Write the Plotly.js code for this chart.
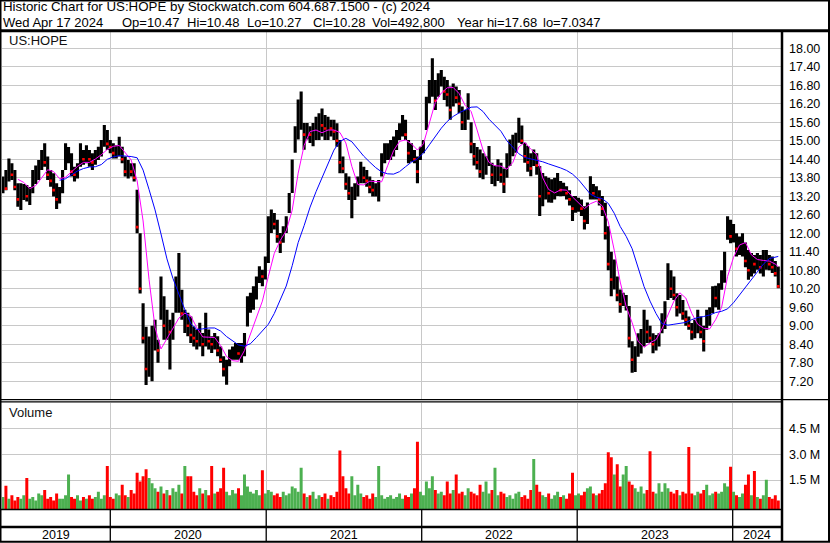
<!DOCTYPE html>
<html><head><meta charset="utf-8">
<script src="https://cdn.plot.ly/plotly-3.0.1.min.js"></script>
<style>html,body{margin:0;padding:0;background:#fff}#chart{width:830px;height:543px}</style>
</head><body><div id="chart"></div>
<script>
// ---- quote header ----
const symbol = 'US:HOPE';
const quoteDate = 'Wed Apr 17 2024';
const quoteOpen = '10.47', quoteHigh = '10.48', quoteLow = '10.27', quoteClose = '10.28';
const quoteVolume = '492,800';
const yearHigh = '17.68', yearLow = '7.0347';

// ---- weekly price data (week dates start at firstWeekDate, step 7 days) ----
const firstWeekDate = '2019-04-24';
const weekHigh = [
13.84,14.05,14.43,14.27,14.05,13.62,13.62,13.6,13.57,13.5,
14.05,14.2,14.38,14.7,14.92,14.49,14.05,13.95,13.62,13.5,
14.05,14.92,14.8,14.6,14.16,14.27,14.92,14.7,14.86,14.7,
14.6,14.7,14.81,15.03,15.51,15.35,15.03,14.92,14.86,15.13,
14.81,14.49,14.38,14.27,14.27,13.41,12.0,9.73,8.97,8.65,
9.0,9.2,8.55,10.6,9.96,9.52,9.2,9.42,10.6,11.36,
10.17,9.52,9.42,9.3,8.98,8.88,9.1,8.77,9.42,8.88,
8.66,8.77,8.66,8.33,8.01,7.9,8.23,8.33,8.44,8.44,
8.44,8.77,9.96,10.07,10.28,10.6,10.93,10.82,11.25,12.55,
12.77,12.66,12.44,12.01,12.23,12.55,13.31,14.39,15.47,16.34,
16.6,15.58,15.58,15.47,15.58,15.78,15.89,16.05,15.84,15.78,
15.68,15.68,15.57,15.03,14.49,13.95,13.84,13.51,13.62,13.84,
14.32,14.16,14.05,13.84,13.73,13.62,13.73,14.6,14.92,14.92,
15.03,15.14,15.35,15.57,15.84,15.68,15.03,14.92,14.7,14.49,
14.81,15.03,16.43,16.97,17.68,16.97,17.19,17.3,17.08,16.97,
16.76,16.86,16.76,16.65,16.11,16.0,16.54,
15.6,14.93,14.8,14.72,14.6,14.5,14.83,14.29,14.2,14.4,
14.29,14.1,14.6,15.04,15.2,15.26,15.75,15.5,14.94,14.83,
14.6,14.72,14.6,14.18,13.96,13.85,13.8,13.75,13.8,13.96,
13.7,13.64,13.53,13.4,13.21,13.21,13.15,13.1,12.88,13.0,
13.85,13.6,13.53,13.4,13.21,12.99,12.23,11.4,11.15,10.6,
10.18,10.07,10.0,9.64,8.5,8.34,8.76,8.9,9.52,9.2,
9.0,8.76,8.7,8.76,9.41,9.8,11.03,10.8,10.6,10.06,
10.0,9.84,9.5,9.3,9.09,9.2,9.52,9.3,9.0,9.52,
9.6,10.28,10.3,10.38,10.8,11.4,12.55,12.44,12.3,12.0,
11.9,12.0,11.7,11.46,11.36,11.3,11.36,11.3,11.46,11.46,
11.3,11.25,11.1,10.92];
const weekLow = [
13.30,13.40,13.68,13.73,13.40,12.86,12.76,13.08,13.03,12.92,
13.3,13.6,13.73,14.05,14.16,13.73,13.51,13.19,12.79,12.97,
13.3,14.05,14.27,13.84,13.68,13.78,14.16,14.22,14.27,14.16,
14.05,14.22,14.38,14.49,14.81,14.7,14.6,14.43,14.43,14.49,
14.27,13.84,13.78,13.84,13.68,12.0,10.05,8.43,7.08,7.35,
7.2,8.2,7.8,9.2,8.55,8.55,7.58,8.55,9.42,9.42,
9.2,8.77,8.66,8.44,8.33,8.23,8.33,8.01,8.33,8.23,
8.12,8.23,8.01,7.8,7.36,7.09,7.69,7.9,7.9,7.9,
7.8,8.01,8.98,9.42,9.52,9.85,10.39,10.28,10.5,11.04,
12.01,12.12,11.69,11.36,11.69,12.01,12.66,13.31,14.61,15.04,
15.36,14.71,15.04,14.93,14.82,15.03,15.03,15.14,15.03,15.03,
15.14,15.03,14.81,13.95,13.95,13.41,13.08,12.49,13.08,13.19,
13.62,13.62,13.51,13.3,13.19,13.19,13.03,13.84,14.27,14.38,
14.38,14.49,14.7,15.03,15.14,15.03,14.27,14.32,14.27,13.62,
14.38,14.6,15.35,16.22,16.43,16.0,16.43,16.76,16.32,16.11,
15.68,16.11,16.22,15.89,15.35,15.35,15.68,
14.6,14.2,14.07,13.8,13.75,13.9,14.18,13.6,13.53,13.7,
13.64,13.31,13.8,14.18,14.5,14.61,14.94,14.9,14.29,14.0,
13.85,14.18,13.9,12.56,12.88,13.1,13.0,12.99,13.1,13.21,
13.2,13.21,13.1,12.9,12.4,12.67,12.7,12.56,12.12,12.3,
13.1,13.1,13.1,12.9,12.56,11.8,10.8,9.96,10.18,9.8,
9.42,9.64,9.5,8.3,7.48,7.5,8.0,8.1,8.33,8.44,
8.44,8.11,8.2,8.33,8.76,8.9,9.84,9.9,9.84,9.3,
9.4,9.2,9.0,8.87,8.55,8.6,8.76,8.6,8.17,8.87,
9.0,9.41,9.6,9.52,10.17,10.4,11.79,11.68,11.7,11.25,
11.3,11.25,10.9,10.49,10.6,10.7,10.82,10.7,10.6,10.82,
10.8,10.71,10.6,10.22];
const weekClose = [
13.5,13.45,14.0,13.9,13.5,13.1,13.3,13.3,13.2,13.4,
13.9,14.1,14.3,14.6,14.3,13.9,13.7,13.4,13.1,13.3,
13.9,14.3,14.6,14.0,13.9,14.2,14.6,14.4,14.6,14.4,
14.3,14.5,14.7,14.9,15.2,14.9,14.8,14.6,14.7,14.7,
14.4,14.0,14.1,14.0,13.8,12.2,10.2,8.6,7.6,8.2,
8.4,8.6,8.2,9.8,9.0,9.0,8.8,9.2,10.0,10.0,
9.4,9.45,9.0,8.7,8.6,8.5,8.7,8.4,8.7,8.5,
8.4,8.5,8.2,7.9,7.6,7.7,8.0,8.1,8.2,8.1,
8.1,8.6,9.7,9.8,10.1,10.4,10.7,10.6,11.1,12.2,
12.4,12.3,11.9,11.7,12.1,12.4,13.1,14.2,15.2,15.5,
16.0,15.2,15.3,15.2,15.4,15.4,15.6,15.5,15.4,15.5,
15.4,15.3,15.0,14.3,14.1,13.6,13.3,13.4,13.5,13.6,
14.0,13.8,13.7,13.5,13.4,13.4,13.5,14.4,14.6,14.7,
14.8,14.9,15.2,15.4,15.5,15.2,14.6,14.6,14.4,14.0,
14.6,14.9,16.2,16.7,16.9,16.3,16.9,17.0,16.6,16.5,
16.0,16.5,16.4,16.2,15.6,15.7,16.2,
14.9,14.5,14.3,14.0,14.2,14.3,14.4,13.9,14.0,14.1,
13.9,13.6,14.4,14.8,14.9,15.1,15.4,15.0,14.5,14.3,
14.1,14.4,14.2,13.2,13.4,13.5,13.3,13.4,13.6,13.6,
13.4,13.4,13.3,13.1,12.8,12.9,12.9,12.8,12.4,12.8,
13.6,13.3,13.3,13.1,12.8,12.0,11.0,10.5,10.6,10.0,
9.7,9.9,10.0,8.6,7.9,8.2,8.5,8.6,9.1,8.8,
8.6,8.4,8.5,8.6,9.2,9.7,10.6,10.2,10.0,9.6,
9.7,9.4,9.2,9.0,8.8,8.9,9.2,8.8,8.5,9.3,
9.4,10.0,9.9,10.2,10.6,11.2,12.3,11.9,12.0,11.5,
11.6,11.7,11.1,10.8,11.1,11.0,11.2,10.9,11.2,11.3,
11.0,10.9,10.7,10.28];
// representative daily volume for each week, millions of shares
const weekVolumeM = [
0.7,1.35,0.6,0.8,0.5,0.7,0.6,0.8,1.8,0.6,
0.7,0.5,0.9,0.8,1.1,0.6,0.7,0.5,0.9,0.6,
0.6,0.8,2.0,0.7,0.6,0.8,0.5,0.7,0.6,0.8,
0.6,0.7,1.0,0.6,0.8,2.5,0.7,0.6,0.9,0.8,
1.4,0.8,0.7,1.1,0.9,2.1,1.6,1.9,2.3,1.8,
1.5,1.2,1.0,1.3,0.9,1.1,0.8,1.2,1.0,1.4,
0.9,2.5,1.9,1.9,1.0,0.8,1.2,0.9,1.1,0.8,
2.5,0.9,1.0,1.2,2.4,1.0,0.8,1.1,0.9,1.2,
0.8,2.0,1.3,1.0,0.9,1.1,0.8,2.25,0.9,1.1,
1.0,0.8,0.9,0.7,1.0,0.8,0.9,1.3,1.2,1.0,
2.4,0.9,0.7,0.8,1.0,0.6,0.8,0.7,0.9,0.6,
0.8,0.7,1.0,3.4,1.9,1.2,0.9,1.9,0.8,1.4,
0.9,0.7,0.8,0.6,0.9,0.7,2.5,0.8,0.6,0.7,
0.8,0.6,0.7,0.9,0.6,0.8,0.7,0.9,1.2,3.9,
1.0,0.8,1.6,1.2,1.9,1.1,0.9,1.0,0.8,1.6,
0.9,1.1,2.0,0.9,1.0,0.8,1.2,1.0,0.9,0.8,
1.4,1.0,1.6,0.9,1.1,2.4,0.8,1.0,0.9,0.7,
0.8,0.6,0.9,1.0,0.7,0.8,0.6,1.1,2.9,1.4,
1.0,0.8,0.7,0.9,0.6,0.8,1.0,0.7,0.8,0.6,
0.9,2.1,0.8,0.9,0.8,1.0,1.2,1.3,0.9,0.8,
0.9,1.1,1.5,3.3,3.0,2.0,2.6,1.3,2.0,2.5,
1.6,1.4,1.2,1.0,1.3,0.9,1.1,3.35,1.0,0.9,
1.5,1.0,1.5,1.2,1.0,0.9,1.1,0.8,1.0,0.9,
3.6,0.9,0.8,1.0,0.9,1.1,1.4,0.8,0.9,1.0,
0.9,1.0,1.5,1.3,2.45,1.0,0.8,0.7,0.9,1.4,
2.0,0.8,2.2,0.7,0.6,0.8,1.7,0.7,0.6,0.8,
0.49];

// ---- moving averages, every second week ----
const maShortStartWeek = 5;   // magenta
const maShort = [
13.75,13.65,13.45,13.55,13.8,14.06,14.0,13.77,13.82,14.0,
14.17,14.3,14.3,14.41,14.55,14.72,14.82,14.85,14.63,14.38,
13.7,12.4,10.5,8.95,8.25,8.58,8.88,9.25,9.41,9.32,
8.94,8.64,8.63,8.62,8.36,8.0,7.87,7.85,8.2,8.72,
9.23,9.8,10.6,11.35,11.77,12.08,12.75,13.95,14.85,15.3,
15.35,15.26,15.35,15.35,15.27,14.93,14.17,13.58,13.57,13.69,
13.68,13.67,14.19,14.68,14.98,15.03,14.9,14.7,14.9,15.57,
16.25,16.55,16.72,16.73,16.53,16.15,15.95,15.35,14.7,14.3,
14.19,14.18,14.08,14.3,14.8,14.95,14.73,14.55,13.8,13.42,
13.31,13.41,13.4,13.18,12.99,12.8,12.96,13.04,12.89,12.37,
11.45,10.42,9.62,9.1,8.5,8.3,8.45,8.55,8.9,9.38,
9.8,10.07,9.9,9.4,9.05,8.92,8.9,9.2,9.6,10.6,
11.22,11.62,11.7,11.3,11.15,11.12,11.1,11.0,10.92];
const maLongStartWeek = 19;   // blue
const maLong = [
13.72,13.77,13.9,14.02,14.1,14.15,14.16,14.23,14.4,14.48,
14.52,14.51,14.49,14.45,14.05,13.42,12.76,11.98,11.17,10.54,
10.0,9.52,9.07,8.88,8.9,8.93,8.93,8.83,8.65,8.51,
8.38,8.34,8.42,8.62,8.82,9.05,9.4,9.83,10.29,10.95,
11.7,12.25,12.85,13.35,13.8,14.27,14.7,14.98,15.08,14.97,
14.73,14.5,14.31,14.13,13.99,13.93,13.92,14.0,14.16,14.31,
14.42,14.6,14.87,15.14,15.41,15.63,15.79,15.91,16.01,16.09,
16.1,15.95,15.7,15.5,15.31,15.0,14.78,14.58,14.46,14.42,
14.38,14.32,14.25,14.19,14.12,14.04,13.92,13.74,13.5,13.27,
13.17,13.12,12.97,12.65,12.22,11.9,11.5,10.92,10.27,9.8,
9.4,9.07,9.02,9.05,9.08,9.11,9.2,9.27,9.3,9.35,
9.43,9.47,9.55,9.75,10.0,10.25,10.5,10.75,11.0,11.18,
11.24,11.25];

// ---- axes ----
const yearStarts = ['2020-01-01','2021-01-01','2022-01-01','2023-01-01','2024-01-01'];
const yearLabels = ['2019','2020','2021','2022','2023','2024'];
const priceTicks = [7.2,7.8,8.4,9.0,9.6,10.2,10.8,11.4,12.0,12.6,13.2,13.8,14.4,15.0,15.6,16.2,16.8,17.4,18.0];
const volumeTicks = [1.5,3.0,4.5];
const xRange = ['2019-04-21 19:00','2024-04-24 14:00'];
const priceRange = [6.61, 18.529];
const volumeRange = [-0.18, 6.0];

const n = weekHigh.length;
if (weekLow.length!==n || weekClose.length!==n || weekVolumeM.length!==n)
  throw new Error('length mismatch '+[n,weekLow.length,weekClose.length,weekVolumeM.length].join(','));

const DAY = 864e5;
const t0 = Date.parse(firstWeekDate+'T00:00:00Z');
const dateOf = i => new Date(t0 + i*7*DAY).toISOString().slice(0,10);
const dates = weekHigh.map((_,i)=>dateOf(i));
const maDates = (start,len) => Array.from({length:len},(_,k)=>dateOf(Math.min(start+2*k,n-1)));

const isDown = weekClose.map((c,i)=> i>0 && c < weekClose[i-1]);
const downDates = dates.filter((_,i)=>isDown[i]);
const downCloses = weekClose.filter((_,i)=>isDown[i]);

const RED='#ff0000', GREEN='#4cb050', GRID='#c8c8c8';
const FONT='Liberation Sans, Arial, sans-serif';
const W=830, H=543;
const px = x => x/W, py = y => 1 - y/H;

const traces = [
 {type:'bar', x:dates, y:weekHigh.map((h,i)=>h-weekLow[i]), base:weekLow,
  width:7.3*DAY, marker:{color:'#000000', line:{width:0}}, xaxis:'x', yaxis:'y', hoverinfo:'skip'},
 {type:'scatter', mode:'markers', x:downDates, y:downCloses,
  marker:{color:RED, size:2.6, symbol:'square', line:{width:0}}, xaxis:'x', yaxis:'y', hoverinfo:'skip'},
 {type:'scatter', mode:'lines', x:maDates(maShortStartWeek, maShort.length), y:maShort,
  line:{color:'#ff00ff', width:1}, xaxis:'x', yaxis:'y', hoverinfo:'skip'},
 {type:'scatter', mode:'lines', x:maDates(maLongStartWeek, maLong.length), y:maLong,
  line:{color:'#0000ff', width:1}, xaxis:'x', yaxis:'y', hoverinfo:'skip'},
 {type:'bar', x:dates, y:weekVolumeM, base:volumeRange[0], width:7*DAY,
  marker:{color:isDown.map(d=>d?RED:GREEN), line:{width:0}}, xaxis:'x2', yaxis:'y2', hoverinfo:'skip'}
];

// year label midpoints
const bounds = [xRange[0].replace(' ','T')+':00Z', ...yearStarts.map(d=>d+'T00:00:00Z'), xRange[1].replace(' ','T')+':00Z'].map(Date.parse);
const yearMid = yearLabels.map((_,i)=> new Date((bounds[i]+bounds[i+1])/2).toISOString().slice(0,19).replace('T',' '));

const annotations = [];
const hdr = {xref:'paper', yref:'paper', xanchor:'left', yanchor:'middle', showarrow:false, font:{family:FONT, size:13.3, color:'#000'}};
annotations.push({...hdr, x:px(1), y:py(6.2), text:`Historic Chart for ${symbol} by Stockwatch.com 604.687.1500 - (c) 2024`});
const line2 = [quoteDate, 'Op='+quoteOpen, 'Hi='+quoteHigh, 'Lo='+quoteLow, 'Cl='+quoteClose, 'Vol='+quoteVolume, 'Year hi='+yearHigh, 'lo='+yearLow];
const line2x = [1, 119.7, 184.7, 244.7, 311.3, 369.7, 454.7, 541.3];
line2.forEach((t,i)=>annotations.push({...hdr, x:px(line2x[i]), y:py(22.6), text:t, font:{family:FONT, size:13, color:'#000'}}));
annotations.push({...hdr, x:px(7), y:py(40.5), text:symbol, font:{family:FONT, size:13, color:'#111'}});
annotations.push({...hdr, x:px(7), y:py(413), text:'Volume', font:{family:FONT, size:13, color:'#111'}});
yearLabels.forEach((t,i)=>annotations.push({xref:'x', yref:'paper', x:yearMid[i], y:py(534.5), xanchor:'center', yanchor:'middle',
  showarrow:false, text:t, font:{family:FONT, size:12.5, color:'#000'}}));

const L = (x0,y0,x1,y1,w) => ({type:'line', xref:'paper', yref:'paper', x0:px(x0), y0:py(y0), x1:px(x1), y1:py(y1), line:{color:'#000', width:w}});
const shapes = [
 {type:'rect', xref:'paper', yref:'paper', x0:px(0.5), y0:py(541.8), x1:px(829), y1:py(0.5), line:{color:'#000', width:2}, fillcolor:'rgba(0,0,0,0)'},
 L(0,30.8,830,30.8,3),
 L(782,30.8,782,542,2.5),
 L(0,399.6,829,399.6,1.2),
 L(0,401.8,782,401.8,1.2),
 L(0,509.6,782,509.6,1.5),
 L(0,527,782,527,2.5),
];
yearStarts.forEach(d=>shapes.push({type:'line', xref:'x', yref:'paper', x0:d, x1:d, y0:py(541), y1:py(509.6), line:{color:'#000', width:1.3}}));

const layout = {
  width:W, height:H, margin:{l:0,r:0,t:0,b:0}, paper_bgcolor:'#fff', plot_bgcolor:'#fff',
  showlegend:false, barmode:'overlay', hovermode:false,
  font:{family:FONT, size:12.5, color:'#000'},
  xaxis:{type:'date', domain:[px(2), px(781.5)], range:xRange, anchor:'y', tickvals:yearStarts, showticklabels:false,
         ticks:'', showgrid:true, gridcolor:GRID, gridwidth:1, zeroline:false, showline:false},
  xaxis2:{type:'date', domain:[px(2), px(781.5)], range:xRange, anchor:'y2', matches:'x', tickvals:yearStarts, showticklabels:false,
         ticks:'', showgrid:true, gridcolor:GRID, gridwidth:1, zeroline:false, showline:false},
  yaxis:{domain:[py(399.5), py(32)], range:priceRange, side:'right', anchor:'x', tickvals:priceTicks, tickformat:'.2f',
         showgrid:true, gridcolor:GRID, gridwidth:1, zeroline:false, showline:false, ticks:'outside', ticklen:4, tickcolor:'rgba(0,0,0,0)',
         tickfont:{family:FONT, size:12.5, color:'#000'}},
  yaxis2:{domain:[py(509), py(402.5)], range:volumeRange, side:'right', anchor:'x2', tickvals:volumeTicks,
         ticktext:volumeTicks.map(v=>v.toFixed(1)+' M'),
         showgrid:true, gridcolor:GRID, gridwidth:1, zeroline:false, showline:false, ticks:'outside', ticklen:4, tickcolor:'rgba(0,0,0,0)',
         tickfont:{family:FONT, size:12.5, color:'#000'}},
  annotations, shapes
};
Plotly.newPlot('chart', traces, layout, {staticPlot:true, displayModeBar:false});
</script>
</body></html>
